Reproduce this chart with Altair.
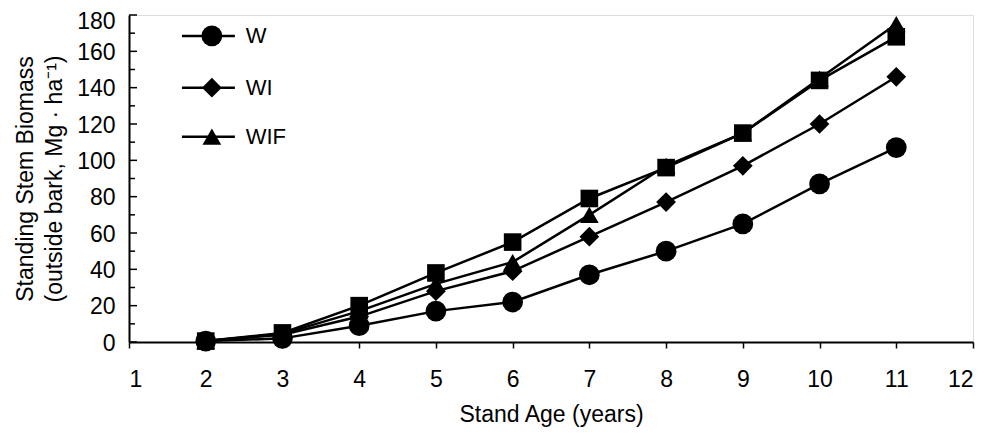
import altair as alt
import pandas as pd

ages = [2, 3, 4, 5, 6, 7, 8, 9, 10, 11]
series_names = ["W", "WI", "WIF", "WIFP"]
w_vals = [0.5, 2, 9, 17, 22, 37, 50, 65, 87, 107]
wi_vals = [0.5, 4, 14, 28, 39, 58, 77, 97, 120, 146]
wif_vals = [0.5, 4.5, 17, 32, 44, 70, 97, 115, 145, 175]
wifp_vals = [0.5, 5, 20, 38, 55, 79, 96, 115, 144, 168]
shapes = ["circle", "diamond", "triangle-up", "square"]
sizes = [430, 310, 400, 430]

x_ticks = list(range(1, 13))
y_ticks = list(range(0, 181, 20))
y_minor = list(range(10, 181, 20))

legend_labels = ["W", "WI", "WIF"]
legend_y = [168.5, 140, 113]
legend_x_start = 1.69
legend_x_end = 2.38
legend_x_sym = 2.08
legend_x_text = 2.52

rows = []
for name, vals in zip(series_names, [w_vals, wi_vals, wif_vals, wifp_vals]):
    for a, v in zip(ages, vals):
        rows.append({"series": name, "age": a, "value": v})
df = pd.DataFrame(rows)

leg = pd.DataFrame({
    "series": legend_labels,
    "y": legend_y,
    "x1": [legend_x_start] * 3,
    "x2": [legend_x_end] * 3,
    "xs": [legend_x_sym] * 3,
    "xt": [legend_x_text] * 3,
})

major_df = pd.DataFrame({"v": y_ticks})
minor_df = pd.DataFrame({"v": y_minor})

xscale = alt.Scale(domain=[1, 12], nice=False, zero=False)
yscale = alt.Scale(domain=[0, 180], nice=False)
shape_scale = alt.Scale(domain=series_names, range=shapes)
size_scale = alt.Scale(domain=series_names, range=sizes)

xaxis = alt.Axis(values=x_ticks, title="Stand Age (years)", tickSize=6, tickWidth=1.5,
                 tickColor="black", domainColor="black", domainWidth=2,
                 labelFontSize=23, labelPadding=20, labelColor="black", labelOverlap=False,
                 titleFontSize=23, titleFontWeight="normal", titleColor="black",
                 titlePadding=12, grid=False, format="d")
yaxis = alt.Axis(values=y_ticks, title=["Standing Stem Biomass", "(outside bark, Mg · ha⁻¹)"],
                 ticks=False, domainColor="black", domainWidth=2,
                 labelFontSize=23, labelPadding=14, labelColor="black", labelOverlap=False,
                 labelBound=False, labelFlush=False,
                 labelOffset={"condition": {"test": "datum.value >= 180", "value": 6}, "value": 1},
                 titleFontSize=23, titleFontWeight="normal", titleColor="black",
                 titleLineHeight=29, titlePadding=10, grid=False, format="d")


def X(field):
    return alt.X(field, scale=xscale, axis=xaxis)


def Y(field):
    return alt.Y(field, scale=yscale, axis=yaxis)


base = alt.Chart(df)
lines = base.mark_line(color="black", strokeWidth=2.5).encode(
    x=X("age:Q"), y=Y("value:Q"), detail="series:N",
)
points = base.mark_point(filled=True, color="black", opacity=1).encode(
    x=X("age:Q"), y=Y("value:Q"),
    shape=alt.Shape("series:N", scale=shape_scale, legend=None),
    size=alt.Size("series:N", scale=size_scale, legend=None),
    order=alt.Order("series:N"),
)

yt_major = alt.Chart(major_df).mark_rule(color="black", strokeWidth=1.5).encode(
    y=Y("v:Q"), x=alt.value(0), x2=alt.value(8))
yt_minor = alt.Chart(minor_df).mark_rule(color="black", strokeWidth=1.5).encode(
    y=Y("v:Q"), x=alt.value(0), x2=alt.value(6))

leg_lines = alt.Chart(leg).mark_rule(color="black", strokeWidth=2.5).encode(
    x=X("x1:Q"), x2="x2:Q", y=Y("y:Q"))
leg_pts = alt.Chart(leg).mark_point(filled=True, color="black", opacity=1).encode(
    x=X("xs:Q"), y=Y("y:Q"),
    shape=alt.Shape("series:N", scale=shape_scale, legend=None),
    size=alt.Size("series:N", scale=size_scale, legend=None))
leg_txt = alt.Chart(leg).mark_text(align="left", baseline="middle", fontSize=22, color="black").encode(
    x=X("xt:Q"), y=Y("y:Q"), text="series:N")

chart = alt.layer(lines, points, yt_major, yt_minor, leg_lines, leg_pts, leg_txt).properties(
    width=844, height=327,
    autosize=alt.AutoSizeParams(type="none"),
    padding={"left": 121, "top": 7, "right": 4, "bottom": 91},
    background="white",
).configure_view(stroke="black", strokeWidth=2).configure(font="Liberation Sans")

chart.save("out.html", embed_options={"renderer": "svg", "actions": False})
